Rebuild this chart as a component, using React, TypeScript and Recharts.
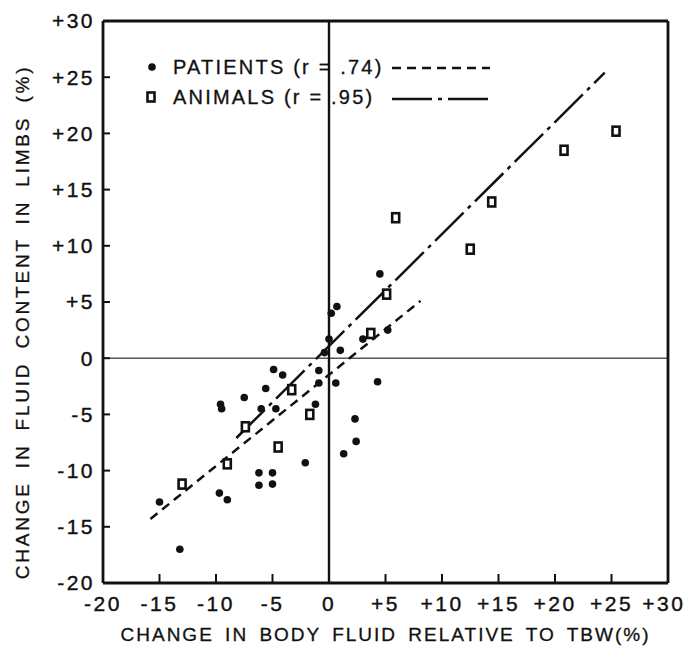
import React from "react"
import {
	ScatterChart,
	Scatter,
	XAxis,
	YAxis,
	ReferenceLine,
	Legend,
	Label,
} from "recharts"

const xTicks = [-20, -15, -10, -5, 0, 5, 10, 15, 20, 25, 30]
const yTicks = [-20, -15, -10, -5, 0, 5, 10, 15, 20, 25, 30]

// dots
const patients = [
	{ x: -4.9, y: -1.0 },
	{ x: -4.1, y: -1.5 },
	{ x: -0.9, y: -1.1 },
	{ x: -0.9, y: -2.2 },
	{ x: -5.6, y: -2.7 },
	{ x: -7.5, y: -3.5 },
	{ x: -9.6, y: -4.1 },
	{ x: -9.5, y: -4.5 },
	{ x: -6.0, y: -4.5 },
	{ x: -4.7, y: -4.5 },
	{ x: -1.2, y: -4.1 },
	{ x: -2.1, y: -9.3 },
	{ x: -6.2, y: -10.2 },
	{ x: -5.0, y: -10.2 },
	{ x: -6.2, y: -11.3 },
	{ x: -5.0, y: -11.2 },
	{ x: -9.7, y: -12.0 },
	{ x: -9.0, y: -12.6 },
	{ x: -15.0, y: -12.8 },
	{ x: -13.2, y: -17.0 },
	{ x: 0.7, y: 4.6 },
	{ x: 0.2, y: 4.0 },
	{ x: 0.0, y: 1.7 },
	{ x: -0.4, y: 0.5 },
	{ x: 1.0, y: 0.7 },
	{ x: 3.0, y: 1.7 },
	{ x: 5.2, y: 2.5 },
	{ x: 0.6, y: -2.2 },
	{ x: 4.3, y: -2.1 },
	{ x: 2.3, y: -5.4 },
	{ x: 2.4, y: -7.4 },
	{ x: 1.3, y: -8.5 },
	{ x: 4.5, y: 7.5 },
]

// squares
const animals = [
	{ x: 5.9, y: 12.5 },
	{ x: 12.5, y: 9.7 },
	{ x: 14.4, y: 13.9 },
	{ x: 20.8, y: 18.5 },
	{ x: 25.4, y: 20.2 },
	{ x: -1.7, y: -5.0 },
	{ x: -4.5, y: -7.9 },
	{ x: -7.4, y: -6.1 },
	{ x: 5.1, y: 5.7 },
	{ x: -13.0, y: -11.2 },
	{ x: -3.3, y: -2.8 },
	{ x: -9.0, y: -9.4 },
	{ x: 3.7, y: 2.2 },
]

const patientFit = [
	{ x: -15.8, y: -14.3 },
	{ x: 8.1, y: 5.1 },
]
const animalFit = [
	{ x: -8.2, y: -7.1 },
	{ x: 24.4, y: 25.4 },
]

const seriesNames = ["PATIENTS (r = .74)", "ANIMALS (r = .95)"]
const xTitle = "CHANGE IN BODY FLUID RELATIVE TO TBW(%)"
const yTitle = "CHANGE IN FLUID CONTENT IN LIMBS (%)"

const FONT = "'Liberation Sans', Arial, sans-serif"
const INK = "#111"
const patientDash = "9 6"
const animalDash = "40 6 4 6"

const tickFont = {
	fontSize: 21,
	fill: INK,
	stroke: INK,
	strokeWidth: 0.4,
	fontFamily: FONT,
	letterSpacing: 2.5,
}

const fmt = (v: number) => (v > 0 ? `+${v}` : `${v}`)

const Dot = (p: any) => <circle cx={p.cx} cy={p.cy} r={3.8} fill={INK} />
const Square = (p: any) => (
	<rect
		x={p.cx - 3.5}
		y={p.cy - 4.5}
		width={7}
		height={9}
		fill='#fff'
		stroke={INK}
		strokeWidth={2.6}
	/>
)
const NoMark = () => <g />

const LegendBox = () => (
	<svg width={360} height={64} style={{ display: "block" }}>
		<circle cx={12} cy={17} r={3.8} fill={INK} />
		<text
			x={33}
			y={17}
			dominantBaseline='central'
			fontSize={20}
			fontFamily={FONT}
			letterSpacing={2.2}
			fill={INK}
			stroke={INK}
			strokeWidth={0.3}>
			{seriesNames[0]}
		</text>
		<line
			x1={252}
			x2={350}
			y1={18}
			y2={18}
			stroke={INK}
			strokeWidth={2.5}
			strokeDasharray={patientDash}
		/>
		<rect x={7.5} y={42.5} width={7} height={9} fill='#fff' stroke={INK} strokeWidth={2.6} />
		<text
			x={33}
			y={47}
			dominantBaseline='central'
			fontSize={20}
			fontFamily={FONT}
			letterSpacing={2.2}
			fill={INK}
			stroke={INK}
			strokeWidth={0.3}>
			{seriesNames[1]}
		</text>
		<line
			x1={252}
			x2={348}
			y1={49}
			y2={49}
			stroke={INK}
			strokeWidth={2.5}
			strokeDasharray={animalDash}
		/>
	</svg>
)

const App = () => {
	return (
		<div style={{ position: "absolute", left: 0, top: 0, background: "#fff" }}>
			<ScatterChart
				width={684}
				height={651}
				margin={{ top: 0, right: 0, bottom: 38, left: 43 }}>
				<XAxis
					type='number'
					dataKey='x'
					domain={[-20, 30]}
					ticks={xTicks}
					allowDataOverflow
					height={30}
					tickFormatter={fmt}
					tick={tickFont}
					tickSize={-9}
					tickMargin={22}
					axisLine={{ stroke: INK, strokeWidth: 2.8 }}
					tickLine={{ stroke: INK, strokeWidth: 2 }}>
					<Label
						content={({ viewBox }: any) => (
							<text
								x={viewBox.x + viewBox.width / 2}
								y={viewBox.y + 58}
								textAnchor='middle'
								fontSize={19}
								fontFamily={FONT}
								letterSpacing={2}
								wordSpacing={4}
								fill={INK}
								stroke={INK}
								strokeWidth={0.3}>
								{xTitle}
							</text>
						)}
					/>
				</XAxis>
				<XAxis
					xAxisId='top'
					orientation='top'
					type='number'
					dataKey='x'
					domain={[-20, 30]}
					ticks={xTicks}
					allowDataOverflow
					height={21}
					tick={false}
					tickSize={-10}
					axisLine={{ stroke: INK, strokeWidth: 2.8 }}
					tickLine={{ stroke: INK, strokeWidth: 2 }}
				/>
				<YAxis
					type='number'
					dataKey='y'
					domain={[-20, 30]}
					ticks={yTicks}
					allowDataOverflow
					width={60}
					tickFormatter={fmt}
					tick={tickFont}
					tickSize={-7}
					tickMargin={15}
					axisLine={{ stroke: INK, strokeWidth: 2.8 }}
					tickLine={{ stroke: INK, strokeWidth: 2 }}>
					<Label
						content={({ viewBox }: any) => {
							const cx = viewBox.x - 21
							const cy = viewBox.y + viewBox.height / 2 + 20
							return (
								<text
									x={cx}
									y={cy}
									transform={`rotate(-90 ${cx} ${cy})`}
									textAnchor='middle'
									dominantBaseline='central'
									fontSize={19}
									fontFamily={FONT}
									letterSpacing={2.8}
									wordSpacing={5}
									fill={INK}
									stroke={INK}
									strokeWidth={0.3}>
									{yTitle}
								</text>
							)
						}}
					/>
				</YAxis>
				<YAxis
					yAxisId='right'
					orientation='right'
					type='number'
					dataKey='y'
					domain={[-20, 30]}
					ticks={yTicks}
					allowDataOverflow
					width={16}
					tick={false}
					tickSize={-10}
					axisLine={{ stroke: INK, strokeWidth: 2.8 }}
					tickLine={{ stroke: INK, strokeWidth: 2 }}
				/>
				<ReferenceLine y={0} stroke='#555' strokeWidth={1.5} />
				<ReferenceLine x={0} stroke={INK} strokeWidth={2.4} />
				<Scatter
					name='patients fit'
					data={patientFit}
					shape={NoMark}
					line={{ stroke: INK, strokeWidth: 2.5, strokeDasharray: patientDash }}
					isAnimationActive={false}
				/>
				<Scatter
					name='animals fit'
					data={animalFit}
					shape={NoMark}
					line={{ stroke: INK, strokeWidth: 2.5, strokeDasharray: animalDash }}
					isAnimationActive={false}
				/>
				<Scatter
					name={seriesNames[0]}
					data={patients}
					shape={Dot}
					isAnimationActive={false}
				/>
				<Scatter
					name={seriesNames[1]}
					data={animals}
					shape={Square}
					isAnimationActive={false}
				/>
				<Legend
					layout='horizontal'
					verticalAlign='middle'
					align='center'
					content={LegendBox}
					wrapperStyle={{ left: 140, top: 50, width: 360, height: 64 }}
				/>
			</ScatterChart>
		</div>
	)
}

export default App
